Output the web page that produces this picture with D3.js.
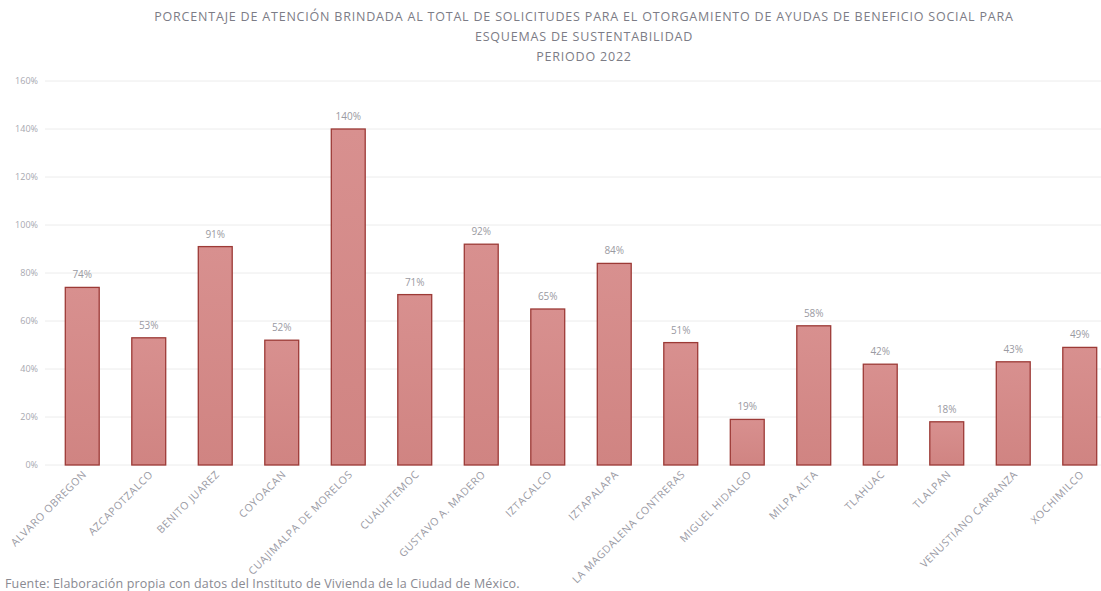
<!DOCTYPE html>
<html><head><meta charset="utf-8">
<script src="https://cdn.jsdelivr.net/npm/d3@7"></script>
<style>body{margin:0;background:#fff;overflow:hidden}svg{display:block;font-family:"Open Sans","Liberation Sans",sans-serif}</style>
</head><body>
<script>
const categories = ["ALVARO OBREGON","AZCAPOTZALCO","BENITO JUAREZ","COYOACAN","CUAJIMALPA DE MORELOS","CUAUHTEMOC","GUSTAVO A. MADERO","IZTACALCO","IZTAPALAPA","LA MAGDALENA CONTRERAS","MIGUEL HIDALGO","MILPA ALTA","TLAHUAC","TLALPAN","VENUSTIANO CARRANZA","XOCHIMILCO"];
const values = [74,53,91,52,140,71,92,65,84,51,19,58,42,18,43,49];
const yTicks = [0,20,40,60,80,100,120,140,160];
const titleLines = ["PORCENTAJE DE ATENCIÓN BRINDADA AL TOTAL DE SOLICITUDES PARA EL OTORGAMIENTO DE AYUDAS DE BENEFICIO SOCIAL PARA","ESQUEMAS DE SUSTENTABILIDAD","PERIODO 2022"];
const source = "Fuente: Elaboración propia con datos del Instituto de Vivienda de la Ciudad de México.";

const W=1101,H=591;
const svg=d3.select("body").append("svg").attr("width",W).attr("height",H);
const defs=svg.append("defs");
const g=defs.append("linearGradient").attr("id","bg").attr("x1",0).attr("y1",0).attr("x2",0).attr("y2",1);
g.append("stop").attr("offset","0%").attr("stop-color","#d8908f");
g.append("stop").attr("offset","100%").attr("stop-color","#d08482");

const x=d3.scaleBand().domain(categories).range([49,1113]).paddingInner(0.49).paddingOuter(0.245);
const y=d3.scaleLinear().domain([0,160]).range([465,81]);

// grid
svg.append("g").selectAll("line").data(yTicks).join("line")
 .attr("x1",45).attr("x2",W).attr("y1",d=>y(d)).attr("y2",d=>y(d))
 .attr("stroke","#ececec").attr("stroke-width",1);
// y labels
svg.append("g").selectAll("text").data(yTicks).join("text")
 .attr("x",38).attr("y",d=>y(d)+3).attr("text-anchor","end")
 .attr("font-size",9).attr("fill","#a8a8b0").text(d=>d+"%");

// bars
svg.append("g").selectAll("rect").data(values).join("rect")
 .attr("x",(d,i)=>x(categories[i])).attr("width",x.bandwidth())
 .attr("y",d=>y(d)).attr("height",d=>y(0)-y(d))
 .attr("fill","url(#bg)").attr("stroke","#9c3a36").attr("stroke-width",1.3);
// value labels
svg.append("g").selectAll("text").data(values).join("text")
 .attr("x",(d,i)=>x(categories[i])+x.bandwidth()/2).attr("y",d=>y(d)-9)
 .attr("text-anchor","middle").attr("font-size",10).attr("fill","#9a9aa2").text(d=>d+"%");

// x labels
svg.append("g").selectAll("text").data(categories).join("text")
 .attr("transform",d=>`translate(${x(d)+x.bandwidth()/2+5},${475}) rotate(-45)`)
 .attr("text-anchor","end").attr("font-size",10.5).attr("letter-spacing",0.6)
 .attr("fill","#9a9aa4").text(d=>d);

// title
svg.append("g").selectAll("text").data(titleLines).join("text")
 .attr("x",584).attr("y",(d,i)=>21+i*20).attr("text-anchor","middle")
 .attr("font-size",12.5).attr("letter-spacing",0.8).attr("fill","#7c7c86").text(d=>d);

svg.append("text").attr("x",5).attr("y",588).attr("font-size",12.5).attr("letter-spacing",0.15)
 .attr("fill","#8a8a92").text(source);
</script>
</body></html>
